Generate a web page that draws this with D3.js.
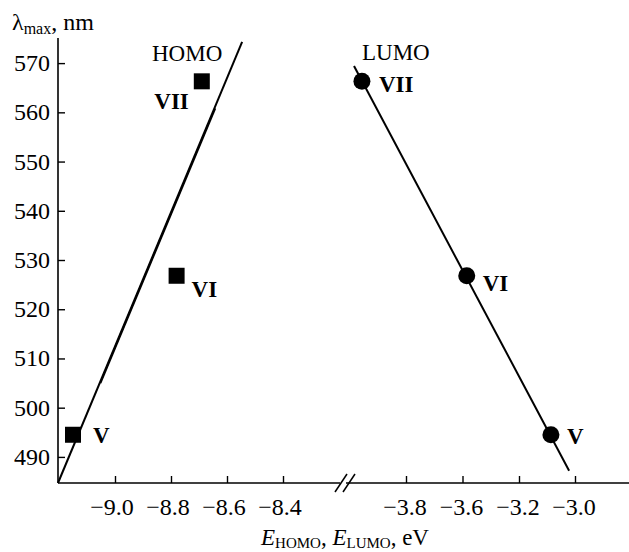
<!DOCTYPE html>
<html>
<head>
<meta charset="utf-8">
<script src="https://cdn.jsdelivr.net/npm/d3@7"></script>
<style>
  body { margin: 0; background: #fff; }
  svg text { font-family: "Liberation Serif", "Times New Roman", serif; fill: #000; }
</style>
</head>
<body>
<div id="chart"></div>
<script>
// compounds and their values
var compounds = ["V", "VI", "VII"];
var lambdaMax = [494.5, 526.8, 566.3];
var eHomo = [-9.15, -8.78, -8.69];
var eLumo = [-3.086, -3.57, -3.956];

// fitted lines (end points)
var homoFit = [[-9.2036, 484.7], [-8.546, 574.3]];
var homoFit2 = [[-8.645, 560.8], [-9.055, 505]];
var lumoFit = [[-3.984, 569.4], [-3.021, 487.2]];

var yTicks = [490, 500, 510, 520, 530, 540, 550, 560, 570];
var homoTicks = [-9.0, -8.8, -8.6, -8.4];
var lumoTicks = [-3.8, -3.6, -3.2, -3.0];

var width = 629, height = 552;
var svg = d3.select("#chart").append("svg").attr("width", width).attr("height", height);

var y = d3.scaleLinear().domain([484.7, 575.1]).range([483, 38]);
var xH = d3.scaleLinear().domain([-9.2, -8.2]).range([59, 339]);
// the right part has evenly spaced ticks with these labels
var xL = d3.scaleLinear().domain(lumoTicks).range([406, 462.5, 519, 575]);

var fmt = function(d){ return d3.format(".1f")(d).replace("-", "\u2212"); };

// y axis
var yAxis = svg.append("g").attr("transform", "translate(58,0)")
  .call(d3.axisRight(y).tickValues(yTicks).tickSize(7).tickFormat(""));
yAxis.select(".domain").remove();
yAxis.selectAll("line").attr("stroke", "#000").attr("stroke-width", 1.4);
svg.append("line").attr("x1", 58).attr("x2", 58).attr("y1", 38).attr("y2", 483)
  .attr("stroke", "#000").attr("stroke-width", 1.6);
svg.selectAll(".ylab").data(yTicks).enter().append("text")
  .attr("x", 50).attr("y", function(d){ return y(d) + 8; })
  .attr("text-anchor", "end").style("font-size", "24px").text(function(d){ return d; });

// x axis line with break
svg.append("line").attr("x1", 58).attr("x2", 629).attr("y1", 483).attr("y2", 483)
  .attr("stroke", "#000").attr("stroke-width", 1.6);
svg.append("rect").attr("x", 340).attr("y", 480).attr("width", 6).attr("height", 6).attr("fill", "#fff");
[[335, 347], [343, 355]].forEach(function(b){
  svg.append("line").attr("x1", b[0]).attr("y1", 492).attr("x2", b[1]).attr("y2", 474)
    .attr("stroke", "#000").attr("stroke-width", 1.5);
});

var gH = svg.append("g").attr("transform", "translate(0,483)")
  .call(d3.axisTop(xH).tickValues(homoTicks).tickSize(7).tickFormat(""));
var gL = svg.append("g").attr("transform", "translate(0,483)")
  .call(d3.axisTop(xL).tickValues(lumoTicks).tickSize(7).tickFormat(""));
[gH, gL].forEach(function(g){
  g.select(".domain").remove();
  g.selectAll("line").attr("stroke", "#000").attr("stroke-width", 1.4);
});
svg.selectAll(".hlab").data(homoTicks).enter().append("text")
  .attr("x", function(d){ return xH(d) - 3; }).attr("y", 515)
  .attr("text-anchor", "middle").style("font-size", "24px").text(fmt);
svg.selectAll(".llab").data(lumoTicks).enter().append("text")
  .attr("x", function(d){ return xL(d) - 1; }).attr("y", 515)
  .attr("text-anchor", "middle").style("font-size", "24px").text(fmt);

// axis titles
var xt = svg.append("text").attr("x", 345).attr("y", 545).attr("text-anchor", "middle")
  .style("font-size", "23px");
xt.append("tspan").style("font-style", "italic").text("E");
xt.append("tspan").attr("dy", 3).style("font-size", "15px").text("HOMO");
xt.append("tspan").attr("dy", -3).text(", ");
xt.append("tspan").style("font-style", "italic").text("E");
xt.append("tspan").attr("dy", 3).style("font-size", "15px").text("LUMO");
xt.append("tspan").attr("dy", -3).text(", eV");

var yt = svg.append("text").attr("x", 12).attr("y", 30).style("font-size", "24px");
yt.append("tspan").text("\u03bb");
yt.append("tspan").attr("dy", 4).style("font-size", "16px").text("max");
yt.append("tspan").attr("dy", -4).text(", nm");

// fitted lines
var lineH = d3.line().x(function(d){ return xH(d[0]); }).y(function(d){ return y(d[1]); });
var lineL = d3.line().x(function(d){ return xL(d[0]); }).y(function(d){ return y(d[1]); });
svg.append("path").attr("d", lineH(homoFit)).attr("stroke", "#000").attr("stroke-width", 2).attr("fill", "none");
svg.append("path").attr("d", lineH(homoFit2)).attr("stroke", "#000").attr("stroke-width", 2)
  .attr("transform", "translate(0.8,0)").attr("fill", "none");
svg.append("path").attr("d", lineL(lumoFit)).attr("stroke", "#000").attr("stroke-width", 2).attr("fill", "none");

// markers
var sq = 16;
svg.selectAll(".sq").data(compounds).enter().append("rect")
  .attr("x", function(d, i){ return xH(eHomo[i]) - sq / 2; })
  .attr("y", function(d, i){ return y(lambdaMax[i]) - sq / 2; })
  .attr("width", sq).attr("height", sq).attr("fill", "#000");
svg.selectAll(".dot").data(compounds).enter().append("circle")
  .attr("cx", function(d, i){ return xL(eLumo[i]); })
  .attr("cy", function(d, i){ return y(lambdaMax[i]); })
  .attr("r", 8.5).attr("fill", "#000");

// point labels
var homoOff = [[20, 8, "start"], [15, 21, "start"], [-13, 28, "end"]];
var lumoOff = [[16, 9, "start"], [16, 15, "start"], [17, 11, "start"]];
svg.selectAll(".hl").data(compounds).enter().append("text")
  .attr("x", function(d, i){ return xH(eHomo[i]) + homoOff[i][0]; })
  .attr("y", function(d, i){ return y(lambdaMax[i]) + homoOff[i][1]; })
  .attr("text-anchor", function(d, i){ return homoOff[i][2]; })
  .style("font-size", "23px").style("font-weight", "bold").text(function(d){ return d; });
svg.selectAll(".ll").data(compounds).enter().append("text")
  .attr("x", function(d, i){ return xL(eLumo[i]) + lumoOff[i][0]; })
  .attr("y", function(d, i){ return y(lambdaMax[i]) + lumoOff[i][1]; })
  .attr("text-anchor", function(d, i){ return lumoOff[i][2]; })
  .style("font-size", "23px").style("font-weight", "bold").text(function(d){ return d; });

svg.append("text").attr("x", 152).attr("y", 61).style("font-size", "23px").text("HOMO");
svg.append("text").attr("x", 362).attr("y", 60).style("font-size", "23px").text("LUMO");
</script>
</body>
</html>
